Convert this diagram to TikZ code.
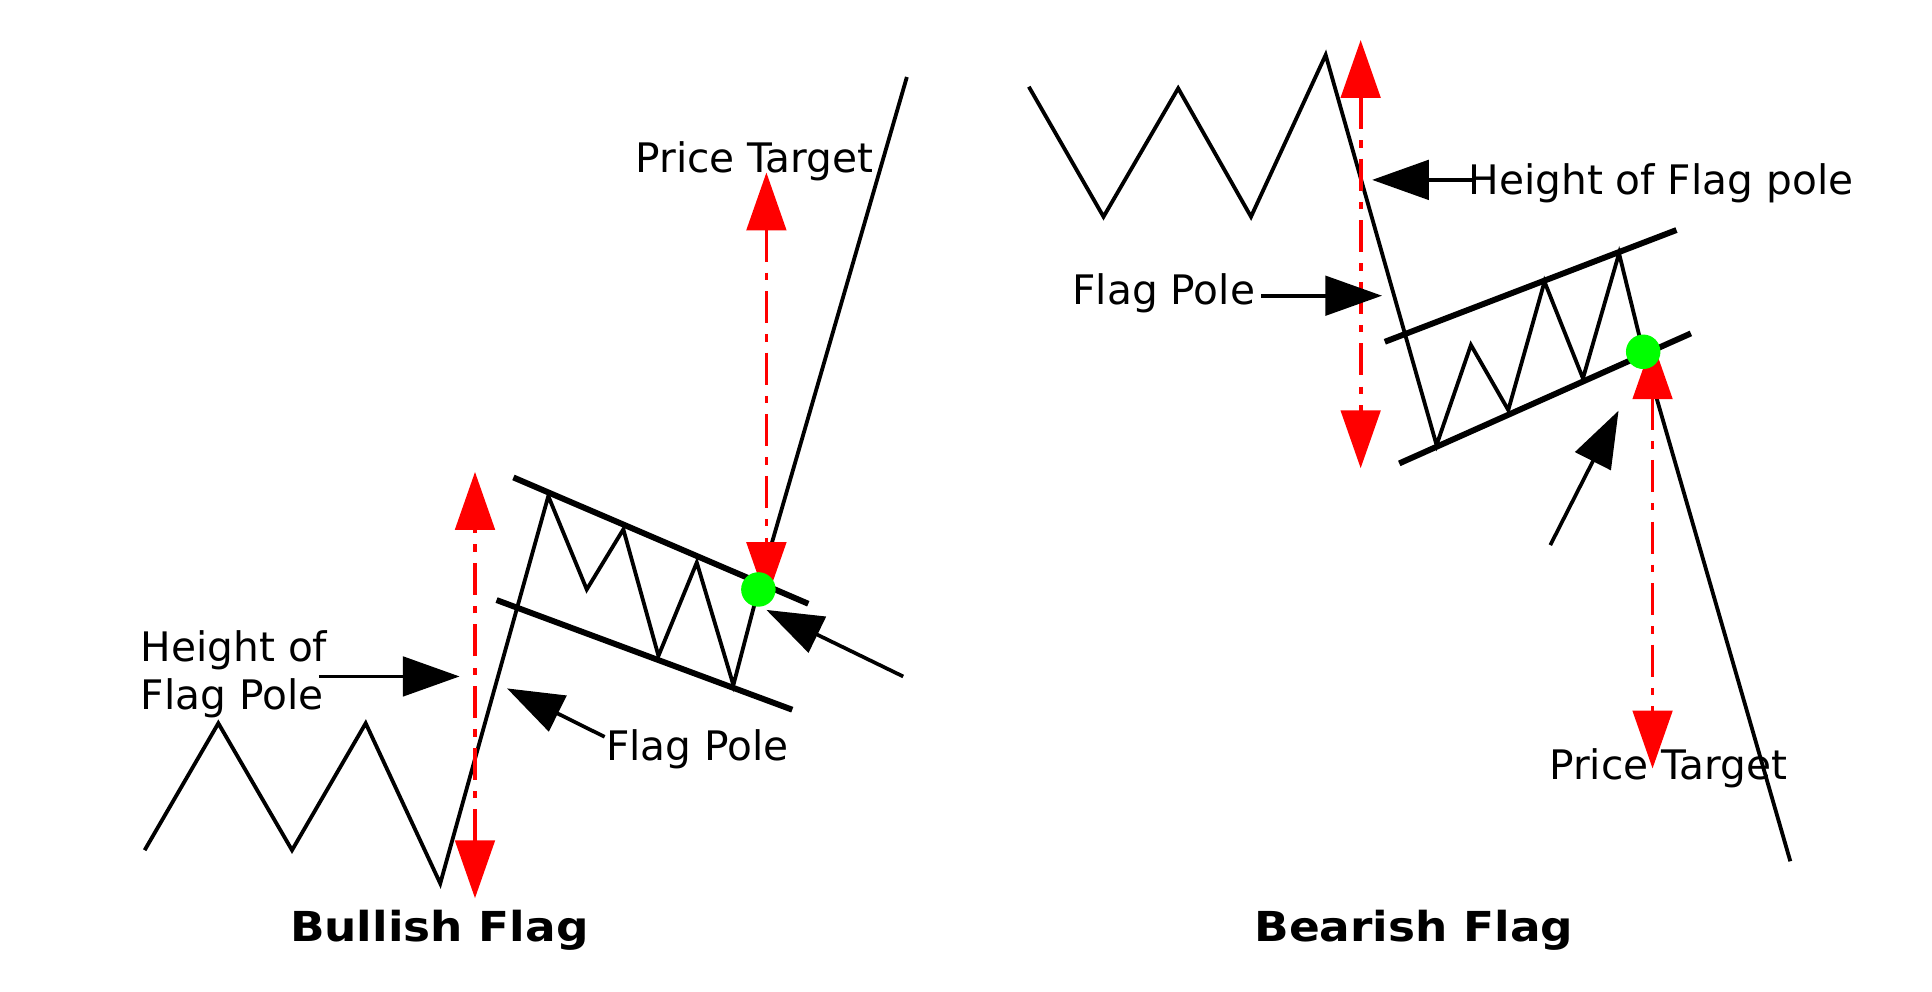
\documentclass[tikz,border=0pt]{standalone}
\usepackage{fontspec}
\setmainfont{DejaVu Sans}
\usetikzlibrary{arrows.meta}
\definecolor{tred}{HTML}{FF0000}
\definecolor{tgreen}{HTML}{00FF00}
\begin{document}
\begin{tikzpicture}[x=1pt,y=-1pt,
  price/.style={line width=3.1pt},
  bound/.style={line width=4.8pt},
  pointer/.style={line width=3pt,-{Triangle[length=46pt,width=32pt]}},
  target/.style={tred,line width=3pt,dash pattern=on 26pt off 9pt on 6pt off 9pt,
    {Triangle[length=47pt,width=32pt]}-{Triangle[length=47pt,width=32pt]}},
  label/.style={inner sep=0pt,font=\fontsize{33}{39}\selectfont},
  title/.style={inner sep=0pt,font=\fontsize{33.5}{40}\selectfont\bfseries},
  dot/.style={circle,fill=tgreen,inner sep=0pt,minimum size=28pt}
]
\useasboundingbox (0,0) rectangle (1568,805);
% ---------------- Bullish flag ----------------
\coordinate (u1) at (117.4,690);
\coordinate (u2) at (177.2,587);
\coordinate (u3) at (237,690);
\coordinate (u4) at (296.8,587);
\coordinate (u5) at (357.3,717);
\coordinate (u6) at (445,402.6);
\coordinate (u7) at (476.2,478.4);
\coordinate (u8) at (505.9,429.6);
\coordinate (u9) at (534.4,532.3);
\coordinate (u10) at (565.5,456.5);
\coordinate (u11) at (595.2,556);
\coordinate (u12) at (615.5,478.4);
\coordinate (u13) at (736,62.5);
\draw[price] (u1)--(u2)--(u3)--(u4)--(u5)--(u6)--(u7)--(u8)--(u9)--(u10)--(u11)--(u12)--(u13);
\coordinate (ut1) at (416.7,387.5);
\coordinate (ut2) at (656,490);
\coordinate (ub1) at (403,487);
\coordinate (ub2) at (643,576);
\draw[bound] (ut1)--(ut2);
\draw[bound] (ub1)--(ub2);
% red measures
\coordinate (urA) at (385.5,729);
\coordinate (urB) at (385.5,383);
\draw[target] (urA)--(urB);
\coordinate (urC) at (622,140);
\coordinate (urD) at (622,487);
\draw[target] (urC)--(urD);
\node[dot] (ugreen) at (u12) {};
% labels
\node[label,anchor=base] (upt) at (612.5,140) {Price Target};
\node[label,anchor=base west,align=left] (uhf) at (114,576) {Height of\\Flag Pole};
\node[label,anchor=base] (ufp) at (566,617) {Flag Pole};
\node[title,anchor=base] (utitle) at (356.5,764) {\scalebox{1.1}[1]{Bullish Flag}};
% black pointers
\coordinate (ua1s) at (258.7,549);
\coordinate (ua1e) at (373,549);
\draw[pointer] (ua1s)--(ua1e);
\coordinate (ua2s) at (490.7,598);
\coordinate (ua2e) at (411.5,558.7);
\draw[pointer] (ua2s)--(ua2e);
\coordinate (ua3s) at (733,549);
\coordinate (ua3e) at (622,495);
\draw[pointer] (ua3s)--(ua3e);
% ---------------- Bearish flag ----------------
\coordinate (d1) at (835,70.4);
\coordinate (d2) at (895.6,175.9);
\coordinate (d3) at (956.2,71.7);
\coordinate (d4) at (1015.3,175.9);
\coordinate (d5) at (1075.9,44.6);
\coordinate (d6) at (1165.9,361.2);
\coordinate (d7) at (1193.8,280);
\coordinate (d8) at (1224.1,332.8);
\coordinate (d9) at (1253.5,228.6);
\coordinate (d10) at (1284.7,307.1);
\coordinate (d11) at (1314,205.6);
\coordinate (d12) at (1333.6,285.5);
\coordinate (d13) at (1453,699);
\draw[price] (d1)--(d2)--(d3)--(d4)--(d5)--(d6)--(d7)--(d8)--(d9)--(d10)--(d11)--(d12)--(d13);
\coordinate (dt1) at (1123.9,277.4);
\coordinate (dt2) at (1360.6,186.7);
\coordinate (db1) at (1135.6,376.1);
\coordinate (db2) at (1372.3,270.6);
\draw[bound] (dt1)--(dt2);
\draw[bound] (db1)--(db2);
\coordinate (drA) at (1104.3,32.5);
\coordinate (drB) at (1104.3,380);
\draw[target] (drA)--(drB);
\coordinate (drC) at (1341.2,277);
\coordinate (drD) at (1341.2,623.7);
\draw[target] (drC)--(drD);
\node[dot] (dgreen) at (d12) {};
\node[label,anchor=base] (dpt) at (1354,632.5) {Price Target};
\node[label,anchor=base] (dhf) at (1348,158) {Height of Flag pole};
\node[label,anchor=base] (dfp) at (944.5,247.5) {Flag Pole};
\node[title,anchor=base] (dtitle) at (1147.5,764) {\scalebox{1.1}[1]{Bearish Flag}};
\coordinate (da1s) at (1198,146);
\coordinate (da1e) at (1113.6,146);
\draw[pointer] (da1s)--(da1e);
\coordinate (da2s) at (1023.7,240);
\coordinate (da2e) at (1121.6,240);
\draw[pointer] (da2s)--(da2e);
\coordinate (da3s) at (1258.2,442.4);
\coordinate (da3e) at (1313.6,333.3);
\draw[pointer] (da3s)--(da3e);
\end{tikzpicture}
\end{document}
